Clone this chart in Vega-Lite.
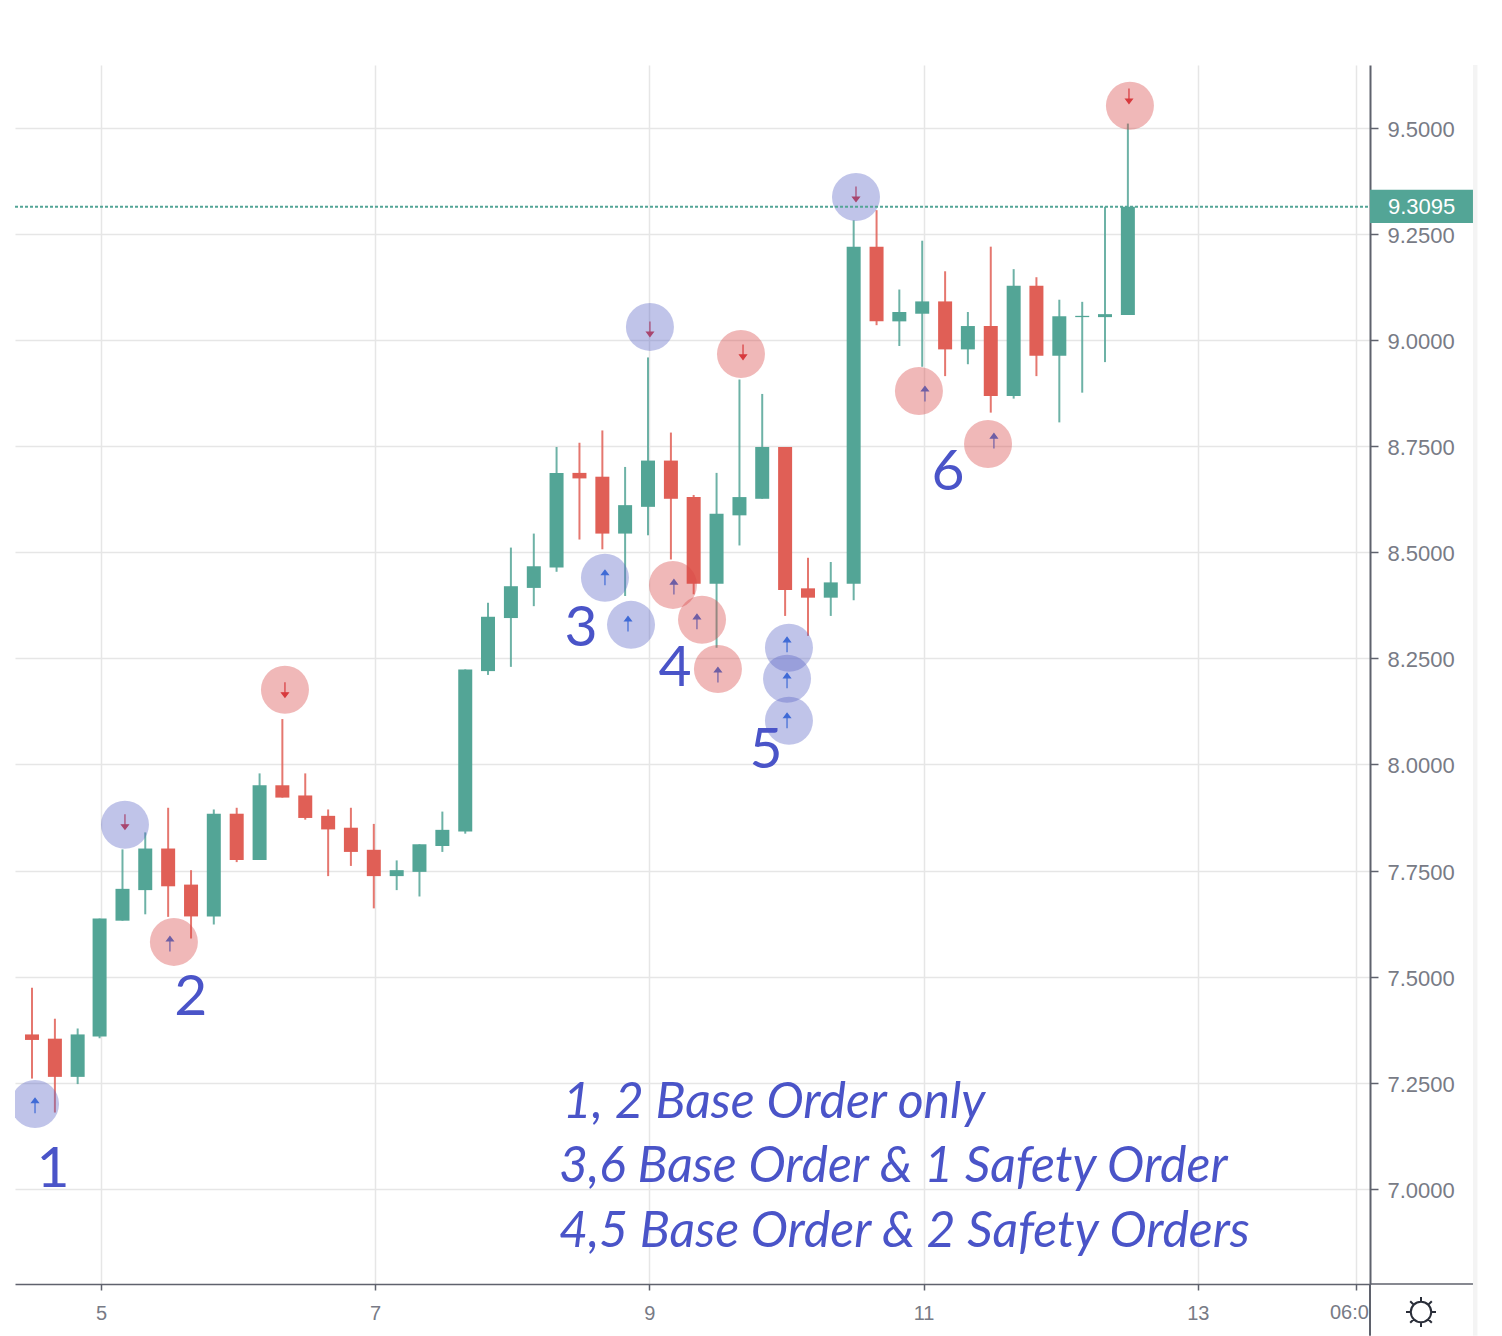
{
"$schema":"https://vega.github.io/schema/vega-lite/v6.json",
"width":1355,"height":1219,
"autosize":{"type":"none"},
"padding":{"left":15,"top":65,"right":132,"bottom":52},
"background":"white",
"config":{"view":{"stroke":null}},
"datasets":{
"candles":[
{"d":4.497,"high":7.474,"top":7.364,"bottom":7.351,"low":7.26,"dir":"down"},
{"d":4.664,"high":7.401,"top":7.354,"bottom":7.264,"low":7.18,"dir":"down"},
{"d":4.83,"high":7.378,"top":7.364,"bottom":7.264,"low":7.247,"dir":"up"},
{"d":4.99,"high":7.637,"top":7.637,"bottom":7.359,"low":7.355,"dir":"up"},
{"d":5.157,"high":7.8,"top":7.707,"bottom":7.632,"low":7.632,"dir":"up"},
{"d":5.323,"high":7.84,"top":7.802,"bottom":7.704,"low":7.647,"dir":"up"},
{"d":5.49,"high":7.898,"top":7.802,"bottom":7.713,"low":7.641,"dir":"down"},
{"d":5.657,"high":7.751,"top":7.717,"bottom":7.642,"low":7.59,"dir":"down"},
{"d":5.823,"high":7.894,"top":7.884,"bottom":7.642,"low":7.623,"dir":"up"},
{"d":5.99,"high":7.898,"top":7.884,"bottom":7.775,"low":7.77,"dir":"down"},
{"d":6.157,"high":7.979,"top":7.951,"bottom":7.775,"low":7.775,"dir":"up"},
{"d":6.323,"high":8.107,"top":7.951,"bottom":7.922,"low":7.922,"dir":"down"},
{"d":6.49,"high":7.979,"top":7.927,"bottom":7.874,"low":7.87,"dir":"down"},
{"d":6.657,"high":7.894,"top":7.879,"bottom":7.847,"low":7.737,"dir":"down"},
{"d":6.823,"high":7.898,"top":7.851,"bottom":7.794,"low":7.761,"dir":"down"},
{"d":6.99,"high":7.86,"top":7.799,"bottom":7.737,"low":7.661,"dir":"down"},
{"d":7.157,"high":7.774,"top":7.751,"bottom":7.737,"low":7.704,"dir":"up"},
{"d":7.323,"high":7.812,"top":7.812,"bottom":7.747,"low":7.689,"dir":"up"},
{"d":7.49,"high":7.889,"top":7.846,"bottom":7.808,"low":7.794,"dir":"up"},
{"d":7.657,"high":8.224,"top":8.224,"bottom":7.842,"low":7.837,"dir":"up"},
{"d":7.823,"high":8.381,"top":8.348,"bottom":8.22,"low":8.211,"dir":"up"},
{"d":7.99,"high":8.511,"top":8.42,"bottom":8.345,"low":8.23,"dir":"up"},
{"d":8.157,"high":8.544,"top":8.467,"bottom":8.416,"low":8.373,"dir":"up"},
{"d":8.323,"high":8.748,"top":8.687,"bottom":8.464,"low":8.454,"dir":"up"},
{"d":8.49,"high":8.758,"top":8.687,"bottom":8.674,"low":8.53,"dir":"down"},
{"d":8.657,"high":8.787,"top":8.678,"bottom":8.544,"low":8.507,"dir":"down"},
{"d":8.823,"high":8.701,"top":8.611,"bottom":8.544,"low":8.397,"dir":"up"},
{"d":8.99,"high":8.959,"top":8.716,"bottom":8.607,"low":8.54,"dir":"up"},
{"d":9.157,"high":8.782,"top":8.716,"bottom":8.626,"low":8.483,"dir":"down"},
{"d":9.323,"high":8.635,"top":8.63,"bottom":8.426,"low":8.401,"dir":"down"},
{"d":9.49,"high":8.687,"top":8.591,"bottom":8.426,"low":8.275,"dir":"up"},
{"d":9.657,"high":8.907,"top":8.63,"bottom":8.587,"low":8.516,"dir":"up"},
{"d":9.823,"high":8.873,"top":8.748,"bottom":8.626,"low":8.626,"dir":"up"},
{"d":9.99,"high":8.748,"top":8.748,"bottom":8.411,"low":8.35,"dir":"down"},
{"d":10.157,"high":8.487,"top":8.415,"bottom":8.393,"low":8.303,"dir":"down"},
{"d":10.323,"high":8.477,"top":8.429,"bottom":8.393,"low":8.35,"dir":"up"},
{"d":10.49,"high":9.282,"top":9.22,"bottom":8.426,"low":8.387,"dir":"up"},
{"d":10.657,"high":9.306,"top":9.22,"bottom":9.044,"low":9.035,"dir":"down"},
{"d":10.823,"high":9.119,"top":9.066,"bottom":9.044,"low":8.986,"dir":"up"},
{"d":10.99,"high":9.234,"top":9.091,"bottom":9.062,"low":8.937,"dir":"up"},
{"d":11.157,"high":9.162,"top":9.091,"bottom":8.978,"low":8.915,"dir":"down"},
{"d":11.323,"high":9.066,"top":9.033,"bottom":8.978,"low":8.943,"dir":"up"},
{"d":11.49,"high":9.22,"top":9.033,"bottom":8.868,"low":8.829,"dir":"down"},
{"d":11.657,"high":9.167,"top":9.128,"bottom":8.868,"low":8.862,"dir":"up"},
{"d":11.823,"high":9.148,"top":9.128,"bottom":8.963,"low":8.915,"dir":"down"},
{"d":11.99,"high":9.095,"top":9.056,"bottom":8.963,"low":8.806,"dir":"up"},
{"d":12.157,"high":9.09,"top":9.057,"bottom":9.054,"low":8.876,"dir":"up"},
{"d":12.323,"high":9.314,"top":9.061,"bottom":9.054,"low":8.948,"dir":"up"},
{"d":12.49,"high":9.51,"top":9.314,"bottom":9.059,"low":9.059,"dir":"up"}
],
"circles":[
{"d":4.519,"v":7.2,"kind":"buy"},{"d":5.175,"v":7.858,"kind":"buy"},{"d":8.676,"v":8.44,"kind":"buy"},
{"d":8.866,"v":8.329,"kind":"buy"},{"d":9.004,"v":9.031,"kind":"buy"},{"d":10.018,"v":8.275,"kind":"buy"},
{"d":10.004,"v":8.202,"kind":"buy"},{"d":10.018,"v":8.103,"kind":"buy"},{"d":10.507,"v":9.337,"kind":"buy"},
{"d":5.532,"v":7.582,"kind":"sell"},{"d":6.342,"v":8.176,"kind":"sell"},{"d":9.172,"v":8.423,"kind":"sell"},
{"d":9.384,"v":8.341,"kind":"sell"},{"d":9.5,"v":8.225,"kind":"sell"},{"d":9.668,"v":8.967,"kind":"sell"},
{"d":10.966,"v":8.88,"kind":"sell"},{"d":11.47,"v":8.755,"kind":"sell"},{"d":12.505,"v":9.552,"kind":"sell"}
],
"upArrows":[
{"d":4.519,"v":7.196},{"d":5.503,"v":7.577},{"d":8.676,"v":8.44},{"d":8.844,"v":8.331},{"d":9.179,"v":8.418},
{"d":9.347,"v":8.336},{"d":9.5,"v":8.211},{"d":10.004,"v":8.282},{"d":10.004,"v":8.197},{"d":10.004,"v":8.103},
{"d":11.01,"v":8.873},{"d":11.513,"v":8.762}
],
"downArrows":[
{"d":5.175,"v":7.865},{"d":6.342,"v":8.176},{"d":9.004,"v":9.026},{"d":9.683,"v":8.972},{"d":10.507,"v":9.344},{"d":12.498,"v":9.575}
],
"numbers":[
{"d":4.65,"v":7.045,"t":"1"},{"d":5.656,"v":7.45,"t":"2"},{"d":8.501,"v":8.32,"t":"3"},
{"d":9.187,"v":8.225,"t":"4"},{"d":9.851,"v":8.032,"t":"5"},{"d":11.178,"v":8.687,"t":"6"}
],
"notes":[
{"d":8.369,"v":7.202,"t":"1, 2 Base Order only"},
{"d":8.34,"v":7.052,"t":"3,6 Base Order & 1 Safety Order"},
{"d":8.34,"v":6.898,"t":"4,5 Base Order & 2 Safety Orders"}
]
},
"layer":[
{"data":{"name":"candles"},
 "mark":{"type":"rule","strokeWidth":2,"opacity":0.85},
 "encoding":{
  "x":{"field":"d","type":"quantitative","title":null,
   "scale":{"domain":[4.373,14.256],"nice":false,"zero":false},
   "axis":{"values":[5,7,9,11,13,14.156],"orient":"bottom","grid":true,"gridColor":"#e6e6e6","gridWidth":1.5,
    "domainColor":"#5f626d","domainWidth":1.5,"tickColor":"#5f626d","tickSize":6,"tickWidth":1.5,
    "labelFont":"Liberation Sans","labelFontSize":20,"labelColor":"#787b86","labelPadding":13,"labelOverlap":false,"labelFlush":false,
    "labelExpr":"datum.value>14?'':format(datum.value,'d')"}},
  "y":{"field":"low","type":"quantitative","title":null,
   "scale":{"domain":[6.776,9.648],"nice":false,"zero":false},
   "axis":{"values":[7,7.25,7.5,7.75,8,8.25,8.5,8.75,9,9.25,9.5],"orient":"right","format":".4f","grid":true,"gridColor":"#e6e6e6","gridWidth":1.5,
    "domainColor":"#5f626d","domainWidth":2,"tickColor":"#5f626d","tickSize":8,"tickWidth":1.5,
    "labelFont":"Liberation Sans","labelFontSize":22,"labelColor":"#787b86","labelPadding":9,"labelOffset":1.5}},
  "y2":{"field":"high"},
  "color":{"field":"dir","type":"nominal","legend":null,"scale":{"domain":["up","down"],"range":["#53a596","#e05f56"]}}
 }},
{"data":{"name":"candles"},
 "mark":{"type":"rule","strokeWidth":14},
 "encoding":{
  "x":{"field":"d","type":"quantitative"},
  "y":{"field":"bottom","type":"quantitative"},
  "y2":{"field":"top"},
  "color":{"field":"dir","type":"nominal","legend":null}
 }},
{"data":{"name":"upArrows"},
 "mark":{"type":"point","shape":"M0,1 L0,-1 M-0.45,-0.4 L0,-1 L0.45,-0.4 Z","size":225,"filled":false,"stroke":"#2f6fe0","fill":"#2f6fe0","strokeWidth":1.2,"opacity":1},
 "encoding":{"x":{"field":"d","type":"quantitative"},"y":{"field":"v","type":"quantitative"}}},
{"data":{"name":"downArrows"},
 "mark":{"type":"point","shape":"M0,-1 L0,1 M-0.45,0.4 L0,1 L0.45,0.4 Z","size":225,"filled":false,"stroke":"#d8343a","fill":"#d8343a","strokeWidth":1.2,"opacity":1},
 "encoding":{"x":{"field":"d","type":"quantitative"},"y":{"field":"v","type":"quantitative"}}},
{"data":{"name":"circles"},
 "mark":{"type":"point","shape":"circle","filled":true,"size":2304,"opacity":0.38,"clip":true,"strokeWidth":0},
 "encoding":{"x":{"field":"d","type":"quantitative"},"y":{"field":"v","type":"quantitative"},
  "fill":{"field":"kind","type":"nominal","legend":null,"scale":{"domain":["buy","sell"],"range":["#5964c5","#d84444"]}}}},
{"data":{"values":[{"a":4.373,"b":14.256,"v":9.314}]},
 "mark":{"type":"rule","color":"#53a596","strokeWidth":2,"strokeDash":[3,2]},
 "encoding":{"x":{"field":"a","type":"quantitative"},"x2":{"field":"b"},"y":{"field":"v","type":"quantitative"}}},
{"data":{"values":[{"a":15.007,"b":15.04,"lo":6.654,"hi":9.648}]},
 "mark":{"type":"rect","color":"#f4f4f4"},
 "encoding":{"x":{"field":"a","type":"quantitative"},"x2":{"field":"b"},"y":{"field":"lo","type":"quantitative"},"y2":{"field":"hi"}}},
{"data":{"values":[{"a":14.256,"b":15.007,"lo":9.276,"hi":9.354}]},
 "mark":{"type":"rect","color":"#53a596"},
 "encoding":{"x":{"field":"a","type":"quantitative"},"x2":{"field":"b"},"y":{"field":"lo","type":"quantitative"},"y2":{"field":"hi"}}},
{"data":{"values":[{"d":14.387,"v":9.314,"t":"9.3095"}]},
 "mark":{"type":"text","align":"left","baseline":"middle","font":"Liberation Sans","fontSize":22,"color":"#ffffff"},
 "encoding":{"x":{"field":"d","type":"quantitative"},"y":{"field":"v","type":"quantitative"},"text":{"field":"t"}}},
{"data":{"values":[{"a":14.256,"lo":6.654,"hi":6.776}]},
 "mark":{"type":"rule","color":"#5f626d","strokeWidth":2},
 "encoding":{"x":{"field":"a","type":"quantitative"},"y":{"field":"lo","type":"quantitative"},"y2":{"field":"hi"}}},
{"data":{"values":[{"a":14.256,"b":15.007,"v":6.776}]},
 "mark":{"type":"rule","color":"#5f626d","strokeWidth":1.5},
 "encoding":{"x":{"field":"a","type":"quantitative"},"x2":{"field":"b"},"y":{"field":"v","type":"quantitative"}}},
{"data":{"values":[{"d":13.964,"v":6.708,"t":"06:0"}]},
 "mark":{"type":"text","align":"left","baseline":"middle","font":"Liberation Sans","fontSize":20,"color":"#787b86"},
 "encoding":{"x":{"field":"d","type":"quantitative"},"y":{"field":"v","type":"quantitative"},"text":{"field":"t"}}},
{"data":{"values":[{"d":14.628,"v":6.71}]},
 "mark":{"type":"point","shape":"M-0.68,0 A0.68,0.68 0 1,1 0.68,0 A0.68,0.68 0 1,1 -0.68,0 Z M0,-0.68 L0,-1 M0,0.68 L0,1 M-0.68,0 L-1,0 M0.68,0 L1,0 M0.5,0.5 L0.72,0.72 M-0.5,0.5 L-0.72,0.72 M0.5,-0.5 L0.72,-0.72 M-0.5,-0.5 L-0.72,-0.72","size":900,"filled":false,"stroke":"#2a2e39","strokeWidth":2,"opacity":1},
 "encoding":{"x":{"field":"d","type":"quantitative"},"y":{"field":"v","type":"quantitative"}}},
{"data":{"name":"numbers"},
 "mark":{"type":"text","align":"center","baseline":"middle","font":"Lato","fontSize":57,"color":"#4a54c8"},
 "encoding":{"x":{"field":"d","type":"quantitative"},"y":{"field":"v","type":"quantitative"},"text":{"field":"t"}}},
{"data":{"name":"notes"},
 "mark":{"type":"text","align":"left","baseline":"middle","font":"Lato","fontStyle":"italic","fontSize":50,"color":"#4a54c8"},
 "encoding":{"x":{"field":"d","type":"quantitative"},"y":{"field":"v","type":"quantitative"},"text":{"field":"t"}}}
]
}
